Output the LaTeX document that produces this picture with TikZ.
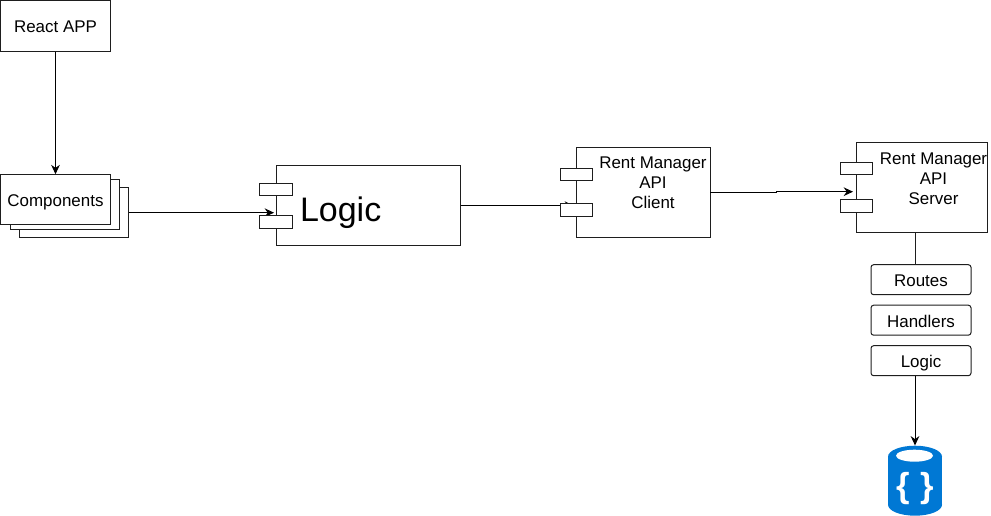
\documentclass[tikz,border=0pt]{standalone}
\usepackage{fontspec}
\setmainfont{Liberation Sans}
\usetikzlibrary{arrows.meta}
\definecolor{dbblue}{RGB}{0,120,212}
\definecolor{edge}{RGB}{30,30,30}
\tikzset{
  box/.style={draw=edge,fill=white,line width=.75pt,inner sep=0pt,text height=10.5pt,text depth=0pt,font=\fontsize{12.7}{15}\selectfont},
  port/.style={box,text height=0pt,minimum width=24.5pt,minimum height=9.3pt},
  step box/.style={box,rounded corners=2pt,minimum width=75pt,minimum height=22.5pt},
  arrow/.style={draw=black,line width=.75pt,-{Stealth[length=7pt,width=6.5pt]}}
}
\begin{document}
\begin{tikzpicture}[x=.75pt,y=-.75pt]
\useasboundingbox (0,-.7) rectangle (991,515.3);
\node[box,minimum width=82pt,minimum height=38pt] (app) at (55.5,25) {React APP};
\node[box,minimum width=82pt,minimum height=37.5pt] (comp3) at (74,212) {};
\node[box,minimum width=82pt,minimum height=37.5pt] (comp2) at (65,204) {};
\node[box,minimum width=82pt,minimum height=37.5pt] (comp1) at (55.5,199) {Components};
\node[box,minimum width=138pt,minimum height=60pt,text height=24pt,font=\fontsize{25.5}{30}\selectfont] (logic) at (368,205) {\hspace{-41pt}Logic};
\node[box,minimum width=100.5pt,minimum height=67.5pt] (client) at (643,192) {};
\node[box,minimum width=98pt,minimum height=67.5pt] (server) at (922,187) {};
\node[font=\fontsize{12.7}{15}\selectfont,align=center] (clienttext) at (653,182) {Rent Manager\\API\\Client};
\node[font=\fontsize{12.7}{15}\selectfont,align=center] (servertext) at (933.5,178) {Rent Manager\\API\\Server};
\coordinate (logicin) at (274,212);
\coordinate (compout) at (comp3.east);
\coordinate (clientin) at (574,205);
\coordinate (clientout) at (710,192);
\coordinate (serverin) at (853,191);
\draw[arrow] (app) -- (comp1);
\draw[arrow] (compout) -- (logicin);
\draw[arrow] (logic.east) -- (clientin);
\draw[arrow] (clientout) -- (776,192) -- (776,191) -- (serverin);
\node[port] (logicp1) at (276,189) {};
\node[port] (logicp2) at (276,221.5) {};
\node[port] (clientp1) at (576.5,174) {};
\node[port] (clientp2) at (576.5,209.5) {};
\node[port] (serverp1) at (856.5,168) {};
\node[port] (serverp2) at (856.5,205.5) {};
\node[step box] (routes) at (921,279) {Routes};
\node[step box] (handlers) at (921,319.5) {Handlers};
\node[step box] (dblogic) at (921,360) {Logic};
% cylinder drawn by hand
\fill[dbblue] (888,456) rectangle (942,504);
\fill[dbblue] (915,456) ellipse [x radius=27,y radius=11];
\fill[dbblue] (915,504) ellipse [x radius=27,y radius=11];
\node[minimum width=40.5pt,minimum height=52.5pt,inner sep=0pt] (db) at (915,480) {};
\fill[white] (914.5,455) ellipse [x radius=18.5,y radius=6];
\node[text=white,font=\fontsize{26}{26}\selectfont\bfseries,inner sep=0pt] (dbicon) at (915.5,488) {\{\hspace{8pt}\}};
\draw[edge,line width=.75pt] (db.north |- server.south) -- (db.north |- routes.north);
\draw[arrow] (db.north |- dblogic.south) -- (db.north);
\end{tikzpicture}
\end{document}
